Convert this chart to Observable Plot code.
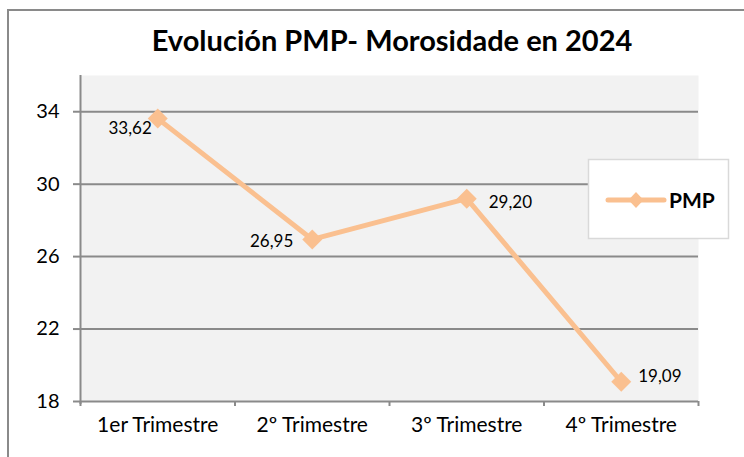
<!DOCTYPE html>
<html><head><meta charset="utf-8">
<script src="https://cdn.jsdelivr.net/npm/d3@7"></script>
<script src="https://cdn.jsdelivr.net/npm/@observablehq/plot@0.6"></script>
<style>
body{margin:0;background:#fff;}
#wrap{position:relative;width:744px;height:457px;overflow:hidden;font-family:Lato,"Open Sans",sans-serif;}
#frame{position:absolute;left:7px;top:9px;width:800px;height:600px;border-left:2px solid #8a8a8a;border-top:2px solid #8a8a8a;}
#title{position:absolute;left:0;top:25px;width:784px;text-align:center;font-size:29px;line-height:29px;font-weight:700;color:#000;white-space:nowrap;}
#chart{position:absolute;left:0;top:0;}
#legend{position:absolute;left:0;top:0;pointer-events:none;}
</style>
</head><body>
<div id="wrap">
  <div id="frame"></div>
  <div id="title">Evolución PMP- Morosidade en 2024</div>
  <div id="chart"></div>
  <svg id="legend" width="744" height="457">
    <rect x="588.5" y="159.5" width="140" height="79" fill="#fff" stroke="#d9d9d9" stroke-width="1.5"></rect>
    <line x1="608" y1="200" x2="664" y2="200" stroke="#FAC090" stroke-width="5" stroke-linecap="round"></line>
    <path d="M636,192 L643.5,200 L636,208 L628.5,200 Z" fill="#FAC090"></path>
    <text x="669" y="207.5" font-family="Lato, 'Open Sans', sans-serif" font-size="21" font-weight="700" fill="#000">PMP</text>
  </svg>
</div>
<script>
const categories = ["1er Trimestre", "2º Trimestre", "3º Trimestre", "4º Trimestre"];
const pmpValues = [33.62, 26.95, 29.20, 19.09];
const yTicks = [18, 22, 26, 30, 34];
const seriesName = "PMP";

const data = categories.map((c, i) => ({cat: c, idx: i + 0.5, value: pmpValues[i]}));
const fmt = v => v.toFixed(2).replace(".", ",");
const lineColor = "#FAC090";
const gridColor = "#8a8a8a";

const labelMark = (i, opts) => Plot.text(data, {
  filter: (d, j) => j === i, x: "idx", y: "value", text: d => fmt(d.value),
  fontSize: 17, fill: "#000", ...opts
});

const chart = Plot.plot({
  width: 744, height: 457,
  marginLeft: 80, marginRight: 46, marginTop: 75, marginBottom: 56,
  style: {background: "transparent", fontFamily: "Lato, 'Open Sans', sans-serif", color: "#000", overflow: "visible"},
  x: {type: "linear", domain: [0, 4], axis: null},
  y: {domain: [18, 36], axis: null},
  marks: [
    Plot.frame({fill: "#f2f2f2", stroke: null}),
    Plot.gridY(yTicks.filter(t => t > 18), {stroke: gridColor, strokeOpacity: 1, strokeWidth: 2}),
    Plot.ruleY([18], {stroke: gridColor, strokeWidth: 2}),
    Plot.ruleX([0], {stroke: gridColor, strokeWidth: 2, insetBottom: -3}),
    Plot.axisY({ticks: yTicks, label: null, tickSize: 7, tickPadding: 14, stroke: gridColor, strokeWidth: 2, fontSize: 20, tickFormat: d => String(d)}),
    Plot.ruleX([0, 1, 2, 3, 4], {stroke: gridColor, strokeWidth: 2, insetTop: 326, insetBottom: -5}),
    Plot.axisX({ticks: data.map(d => d.idx), label: null, tickSize: 0, tickPadding: 16, fontSize: 21, tickFormat: (d, i) => categories[i]}),
    Plot.line(data, {x: "idx", y: "value", stroke: lineColor, strokeWidth: 5}),
    Plot.dot(data, {x: "idx", y: "value", symbol: "diamond2", r: 9, fill: lineColor, stroke: null}),
    labelMark(0, {textAnchor: "end", dx: -6, dy: 10}),
    labelMark(1, {textAnchor: "end", dx: -19, dy: 2}),
    labelMark(2, {textAnchor: "start", dx: 22, dy: 4}),
    labelMark(3, {textAnchor: "start", dx: 17, dy: -5})
  ]
});
document.getElementById("chart").appendChild(chart);
</script>
</body></html>
